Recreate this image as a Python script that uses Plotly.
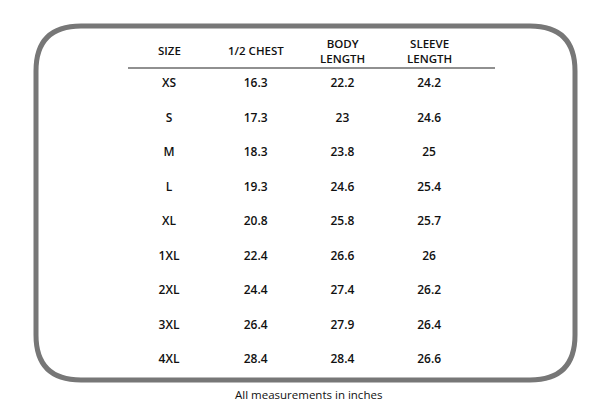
import plotly.graph_objects as go

columns = ["SIZE", "1/2 CHEST", "BODY<br>LENGTH", "SLEEVE<br>LENGTH"]
sizes = ["XS", "S", "M", "L", "XL", "1XL", "2XL", "3XL", "4XL"]
chest = ["16.3", "17.3", "18.3", "19.3", "20.8", "22.4", "24.4", "26.4", "28.4"]
body_length = ["22.2", "23", "23.8", "24.6", "25.8", "26.6", "27.4", "27.9", "28.4"]
sleeve_length = ["24.2", "24.6", "25", "25.4", "25.7", "26", "26.2", "26.4", "26.6"]
footer = "All measurements in inches"

FONT = "Open Sans"
fig = go.Figure()
for col, vals in zip(columns, [sizes, chest, body_length, sleeve_length]):
    fig.add_trace(go.Scatter(
        x=[col] * len(sizes), y=sizes, text=vals, mode="text",
        textfont=dict(family=FONT, size=12, color="#111", weight=600), hoverinfo="skip"))

for col in columns:
    fig.add_annotation(x=col, y=-0.96, xref="x", yref="y", text=col, showarrow=False,
                       font=dict(family=FONT, size=11.5, color="#111", weight=600))

r = 45
x0, x1, y0, y1 = 28, 567, 18, 372
path = (f"M {x0+r},{y0} L {x1-r},{y0} Q {x1},{y0} {x1},{y0+r} L {x1},{y1-r} "
        f"Q {x1},{y1} {x1-r},{y1} L {x0+r},{y1} Q {x0},{y1} {x0},{y1-r} "
        f"L {x0},{y0+r} Q {x0},{y0} {x0+r},{y0} Z")
W, H = 600, 413
fig.add_shape(type="path", xref="x2", yref="y2", path=path,
              line=dict(color="#777", width=5))
fig.add_shape(type="line", xref="x2", yref="y2", x0=120, x1=487, y0=60, y1=60,
              line=dict(color="#222", width=1.2))
fig.add_annotation(x=300, y=386, xref="x2", yref="y2", text=footer, showarrow=False,
                   font=dict(family=FONT, size=11.5, color="#111", weight=500))

fig.update_layout(
    width=W, height=H, margin=dict(l=0, r=0, t=0, b=0),
    paper_bgcolor="white", plot_bgcolor="white", showlegend=False,
    xaxis=dict(type="category", categoryarray=columns, range=[-161/86.7, (600-161)/86.7],
               visible=False, fixedrange=True),
    yaxis=dict(type="category", categoryarray=sizes, range=[(413-76)/34.5, -76/34.5],
               visible=False, fixedrange=True),
    xaxis2=dict(range=[0, W], visible=False, overlaying="x", fixedrange=True),
    yaxis2=dict(range=[H, 0], visible=False, overlaying="y", fixedrange=True),
)
fig.write_html("out.html")
